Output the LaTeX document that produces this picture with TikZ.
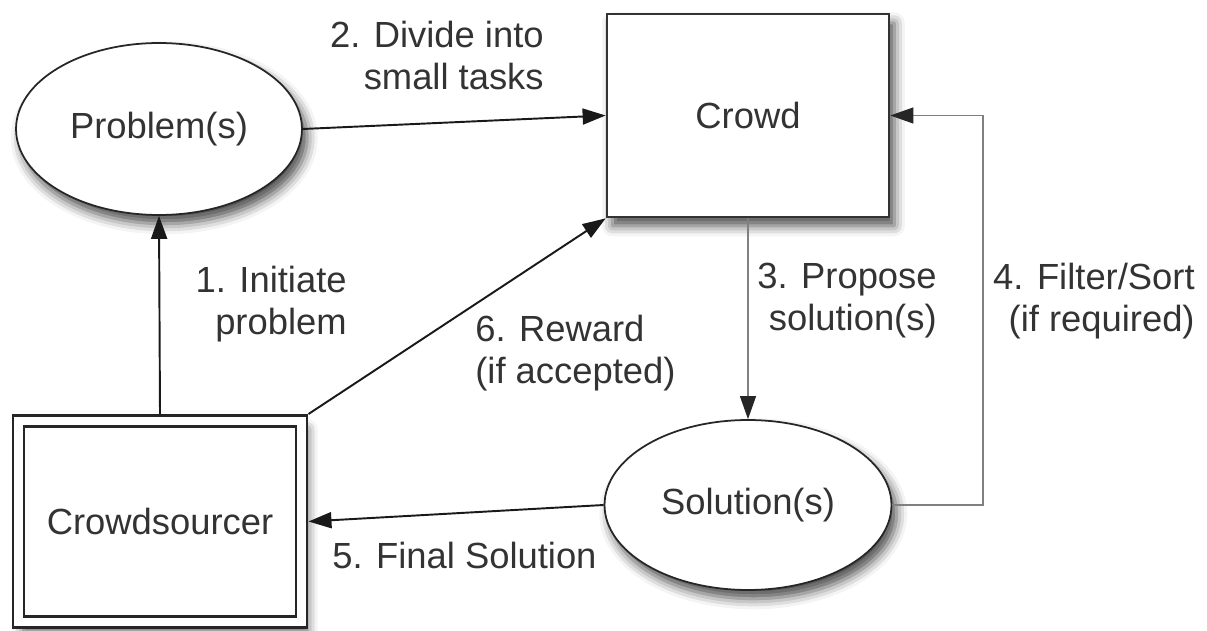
\documentclass[tikz,border=0pt]{standalone}
\usepackage{fontspec}
\setmainfont{Liberation Sans}
\usetikzlibrary{arrows.meta,shapes.geometric,shadows.blur}

\begin{document}
\begin{tikzpicture}[x=0.02cm,y=-0.02cm,
        every node/.style={font=\fontsize{20.7}{24}\selectfont, text=black!80},
        >={Triangle[length=0.46cm,width=0.32cm]},
        softshadow/.style={blur shadow={shadow xshift=3pt,shadow yshift=-5pt,shadow blur radius=6pt,shadow opacity=70}},
        oval/.style={ellipse, draw=black!85, line width=1pt, fill=white, inner sep=0pt, softshadow},
        crowdbox/.style={rectangle, draw=black!80, line width=1.6pt, fill=white, softshadow},
        ownerbox/.style={rectangle, draw=black!85, line width=0.05cm, double=white, double distance=0.17cm, outer sep=0.135cm, fill=white, softshadow},
        flow/.style={draw=black!90, line width=1.1pt, ->},
        thinflow/.style={draw=black!50, line width=0.7pt, -{Triangle[length=0.46cm,width=0.32cm,color=black!85]}},
        lbl/.style={inner sep=0pt}]
    \useasboundingbox (0,0) rectangle (1207,631);

    % nodes
    \node[oval, minimum width=5.72cm, minimum height=3.44cm] (prob) at (159,129) {Problem(s)};
    \node[crowdbox, minimum width=5.64cm, minimum height=4.06cm] (crowd) at (748,115.5) {Crowd};
    \node[oval, minimum width=5.74cm, minimum height=3.40cm] (sol) at (748,505) {Solution(s)};
    \node[ownerbox, minimum width=5.67cm, minimum height=4.03cm] (src) at (160,521.5) {Crowdsourcer};
    \coordinate (bend) at (983,115.5);

    % connectors
    \draw[flow] (src.north) -- (prob.south);
    \draw[flow] (prob.east) -- (crowd.west);
    \draw[thinflow] (crowd.south) -- (sol.north);
    \draw[thinflow] (sol.east) -| (bend) -- (crowd.east);
    \draw[flow] (sol.west) -- (src.east);
    \draw[flow] (src.north east) -- (crowd.south west);

    % labels
    \node[lbl, anchor=north east, align=right] (initiate) at (347,266) {1. Initiate\\problem};
    \node[lbl, anchor=north east, align=right] (divide) at (544,21) {2. Divide into\\small tasks};
    \node[lbl, anchor=north east, align=right] (propose) at (937,263) {3. Propose\\solution(s)};
    \node[lbl, anchor=north east, align=right] (filter) at (1195,263) {4. Filter/Sort\\(if required)};
    \node[lbl, anchor=base west] (final) at (332,568) {5. Final Solution};
    \node[lbl, anchor=north west, align=left] (reward) at (475,315) {6. Reward\\(if accepted)};
\end{tikzpicture}
\end{document}
